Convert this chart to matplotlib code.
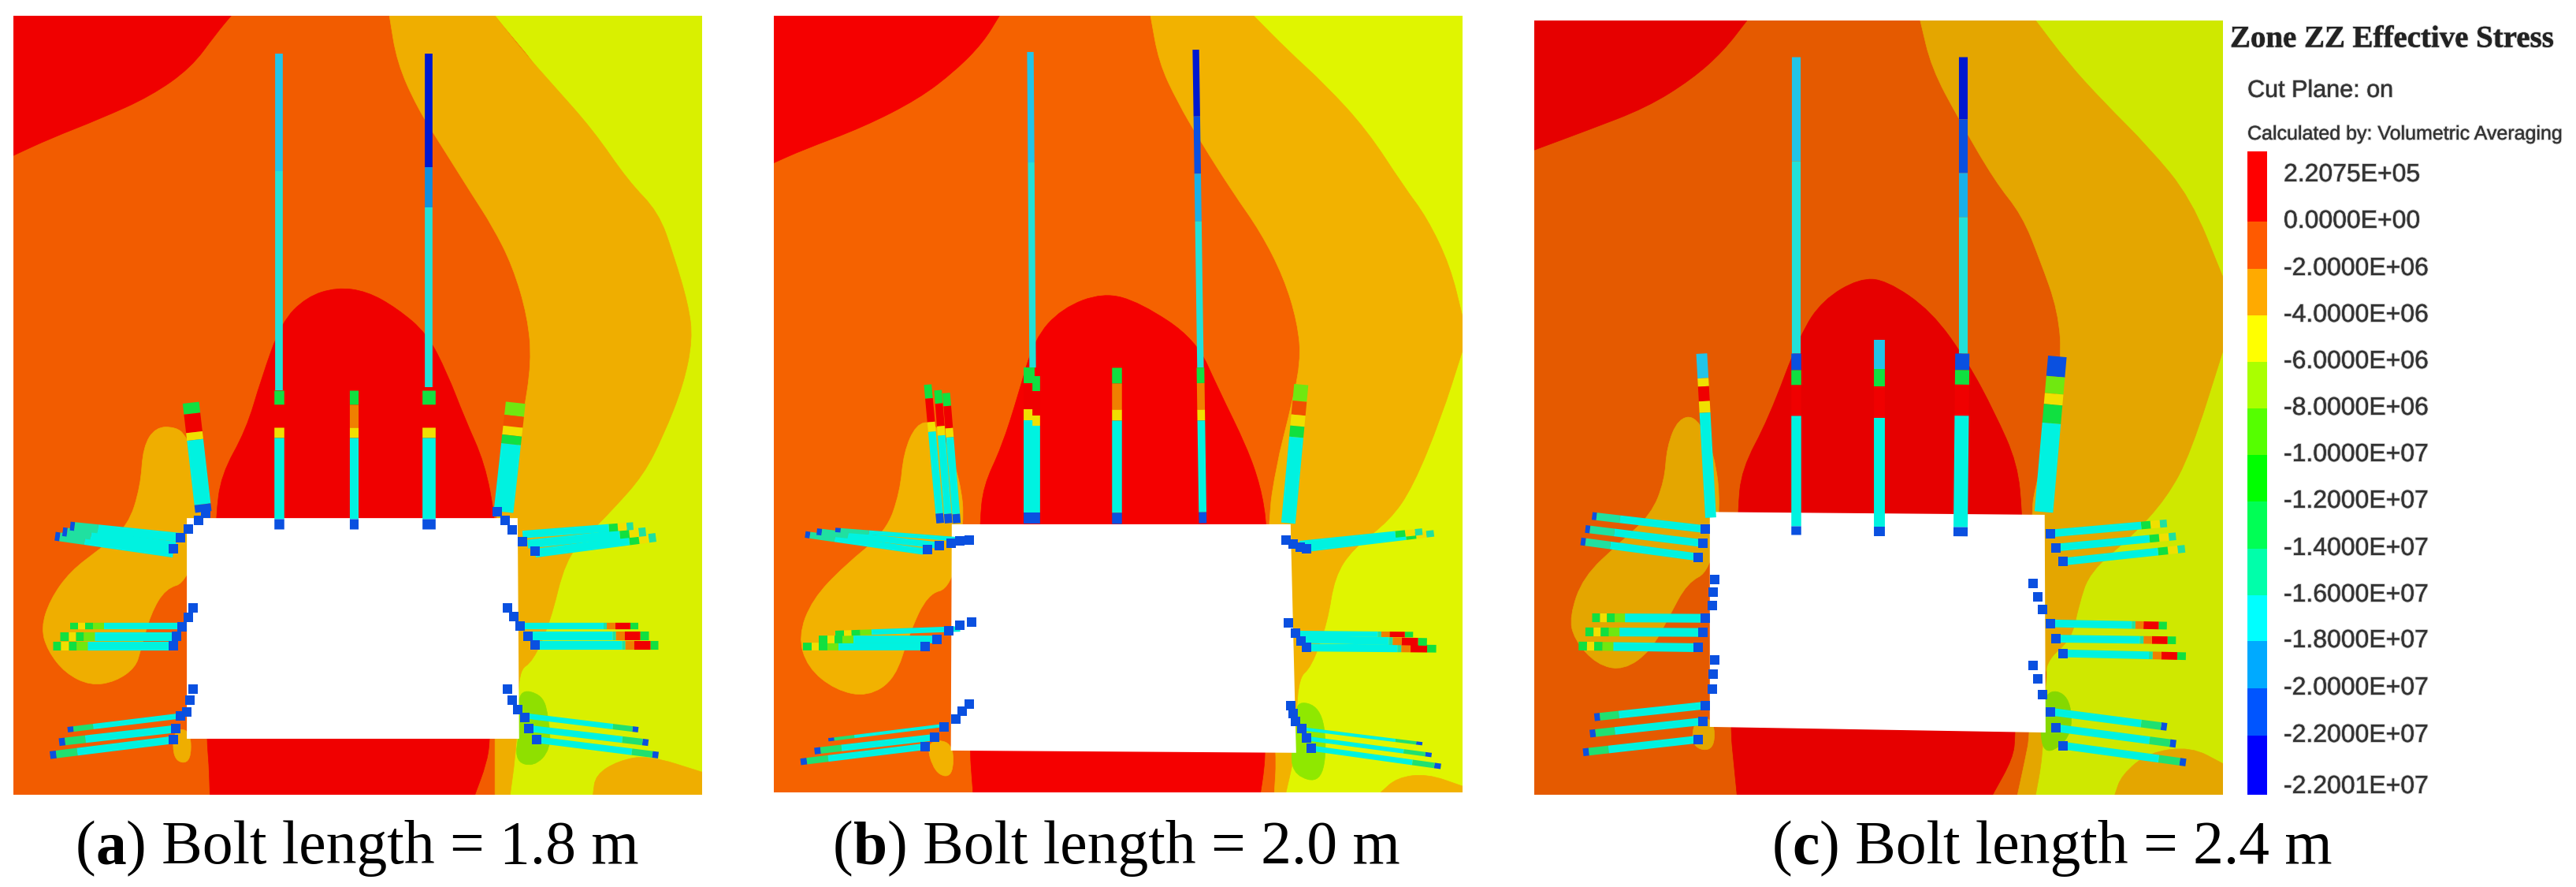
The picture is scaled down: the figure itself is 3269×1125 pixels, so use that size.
import numpy as np
import matplotlib
matplotlib.use("Agg")
import matplotlib.pyplot as plt
import matplotlib.patheffects as pe
from matplotlib.path import Path
from matplotlib.patches import PathPatch

W, H = 3269, 1125

# --- colours ---
BLUE = '#0a50e0'
DARK = '#0018d0'
SKY = '#22c4e8'
TEAL = '#22e0d8'
CYAN = '#00f2e0'
MINT = '#20e0a0'
GREEN = '#10e040'
LIMEG = '#70e810'
YEL = '#f0e000'
ORG = '#f08000'
RED = '#f00000'

# legend
legend_labels = ['2.2075E+05', '0.0000E+00', '-2.0000E+06', '-4.0000E+06', '-6.0000E+06',
                 '-8.0000E+06', '-1.0000E+07', '-1.2000E+07', '-1.4000E+07', '-1.6000E+07',
                 '-1.8000E+07', '-2.0000E+07', '-2.2000E+07', '-2.2001E+07']
legend_label_y = [222, 281, 341, 400, 459, 518, 577, 636, 696, 755, 813, 873, 933, 998]
legend_colors = ['#ff0000', '#ff5a00', '#ffaa00', '#ffff00', '#aaff00', '#55ff00', '#00ff00',
                 '#00ff55', '#00ffaa', '#00ffff', '#00aaff', '#0055ff', '#0000ff']
legend_edges = [192, 281, 341, 400, 459, 518, 577, 636, 696, 755, 813, 873, 933, 1008]

# colour patterns along a bolt, tip to root: (end fraction, colour)
patterns = {
    'thin_sky': [(0.35, SKY), (1, TEAL)],
    'thin_dark': [(0.34, DARK), (0.46, '#1090e0'), (1, TEAL)],
    'thin_dark_c': [(0.21, DARK), (0.39, BLUE), (0.54, '#18b0e8'), (1, TEAL)],
    'short': [(0.1, GREEN), (0.27, RED), (0.34, YEL), (0.93, CYAN), (1, BLUE)],
    'short_o': [(0.1, GREEN), (0.27, ORG), (0.34, YEL), (0.93, CYAN), (1, BLUE)],
    'short_g': [(0.12, LIMEG), (0.22, '#f05000'), (0.3, YEL), (0.38, GREEN), (1, CYAN)],
    'short_c': [(0.09, BLUE), (0.17, GREEN), (0.34, RED), (0.95, CYAN), (1, BLUE)],
    'short_s': [(0.15, SKY), (0.24, GREEN), (0.4, RED), (0.95, CYAN), (1, BLUE)],
    'diag_s': [(0.15, SKY), (0.2, YEL), (0.29, RED), (0.36, YEL), (1, CYAN)],
    'diag_b': [(0.13, BLUE), (0.24, LIMEG), (0.31, YEL), (0.43, GREEN), (1, CYAN)],
    'side_cg': [(0.04, BLUE), (0.25, MINT), (1, CYAN)],
    'side_yg': [(0.07, GREEN), (0.13, YEL), (0.2, GREEN), (0.29, LIMEG), (1, CYAN)],
    'side_rg': [(0.07, GREEN), (0.2, RED), (0.27, ORG), (0.3, MINT), (1, CYAN)],
    'side_tip': [(0.06, MINT), (0.14, YEL), (0.22, GREEN), (1, CYAN)],
    'side_bg': [(0.05, BLUE), (0.22, '#20e070'), (1, CYAN)],
}

a_box = (17, 20, 891, 1008)
a_limits = (27, 1397, 1405, 28)
a_colors = ('#f00000', '#f25c00', '#efae00', '#d9f000', '#8fe000')
a_red_top = [(27, 28), (460, 28), (430, 60), (380, 120), (300, 170), (200, 210), (100, 245), (27, 275)]
a_lime = [(985, 28), (1397, 28), (1397, 1405), (1000, 1405), (1035, 1200), (1035, 1000), (1150, 850), (1300, 500), (1100, 150)]
a_amber = [(775, 28), (790, 110), (830, 190), (880, 260), (940, 345), (980, 400), (1020, 470), (1050, 560),
           (1058, 640), (1040, 740), (1030, 800), (1000, 860), (985, 915), (985, 1200), (985, 1350), (985, 1405),
           (1015, 1405), (1025, 1340), (1030, 1280), (1032, 1185), (1060, 1170), (1095, 1100), (1125, 990),
           (1170, 945), (1220, 900), (1280, 840), (1320, 770), (1360, 680), (1378, 600), (1370, 540), (1340, 450),
           (1310, 375), (1250, 320), (1180, 230), (1100, 150), (1040, 90), (985, 28)]
a_amber_low = [(1180, 1405), (1185, 1370), (1230, 1345), (1290, 1335), (1397, 1365), (1397, 1405)]
a_lobe = [(285, 790), (310, 755), (350, 755), (370, 770), (400, 830), (420, 900), (372, 1030), (330, 1040),
          (300, 1085), (280, 1150), (270, 1180), (230, 1205), (180, 1212), (130, 1190), (95, 1150), (82, 1110),
          (100, 1060), (140, 1010), (200, 970), (255, 930), (280, 860)]
a_lobe_low = [(345, 1290), (380, 1290), (380, 1350), (345, 1345)]
a_red_mid = [(430, 915), (440, 840), (490, 760), (520, 670), (560, 570), (610, 525), (670, 508), (730, 515),
             (790, 545), (850, 590), (890, 660), (925, 740), (965, 820), (985, 915), (985, 960), (430, 960)]
a_red_low = [(412, 1250), (975, 1250), (975, 1310), (968, 1350), (945, 1405), (418, 1405), (416, 1350), (412, 1310)]
a_patch = [(1030, 1218), (1080, 1228), (1092, 1270), (1096, 1325), (1062, 1356), (1024, 1345), (1034, 1290)]
a_hole = [(372, 916), (1030, 916), (1033, 1306), (372, 1306)]
a_bolts = [
    (555, 95, 555, 690, 7, 'thin_sky'), (853, 95, 853, 685, 7, 'thin_dark'),
    (555, 690, 555, 935, 9, 'short'), (853, 690, 853, 935, 12, 'short'), (704, 690, 704, 935, 8, 'short_o'),
    (380, 712, 405, 905, 15, 'short'), (1026, 712, 1002, 905, 18, 'short_g'),
    (110, 948, 345, 978, 8, 'side_cg'), (125, 940, 350, 965, 8, 'side_cg'), (140, 930, 360, 950, 8, 'side_cg'),
    (105, 1142, 345, 1142, 8, 'side_yg'), (120, 1125, 355, 1125, 8, 'side_yg'), (140, 1107, 370, 1107, 6, 'side_yg'),
    (100, 1335, 345, 1308, 7, 'side_bg'), (118, 1312, 355, 1288, 7, 'side_bg'), (135, 1290, 365, 1265, 5, 'side_bg'),
    (1305, 950, 1065, 978, 8, 'side_tip'), (1285, 940, 1050, 962, 8, 'side_tip'), (1260, 930, 1040, 945, 7, 'side_tip'),
    (1310, 1140, 1065, 1140, 8, 'side_rg'), (1290, 1123, 1050, 1123, 8, 'side_rg'), (1270, 1107, 1040, 1107, 6, 'side_rg'),
    (1310, 1335, 1070, 1308, 6, 'side_bg'), (1290, 1313, 1055, 1288, 6, 'side_bg'), (1270, 1290, 1040, 1265, 5, 'side_bg'),
]
a_anchor_x = [345, 360, 375, 395, 410, 385, 375, 362, 352, 345, 385, 378, 372, 360, 350, 345,
              990, 1005, 1020, 1040, 1065, 1010, 1022, 1035, 1050, 1065, 1010, 1020, 1030, 1045, 1052, 1068]
a_anchor_y = [970, 950, 935, 920, 908, 1075, 1092, 1108, 1125, 1142, 1218, 1238, 1258, 1265, 1288, 1308,
              905, 920, 937, 958, 975, 1075, 1090, 1107, 1125, 1140, 1218, 1238, 1255, 1268, 1288, 1308]

# ---------- panel b ----------
b_box = (982, 20, 1856, 1005)
b_limits = (37, 1527, 1401, 28)
b_colors = ('#f50000', '#f56200', '#f2b200', '#e0f500', '#8fe800')
b_red_top = [(37, 28), (525, 28), (490, 75), (430, 125), (350, 175), (230, 225), (100, 265), (37, 288)]
b_lime = [(1075, 28), (1527, 28), (1527, 1401), (1145, 1401), (1165, 1250), (1165, 1050), (1300, 800), (1400, 600), (1200, 160)]
b_amber = [(852, 28), (870, 110), (910, 180), (960, 250), (1030, 340), (1090, 410), (1140, 490), (1170, 570),
           (1178, 640), (1150, 740), (1125, 820), (1105, 925), (1110, 1200), (1125, 1335), (1120, 1401), (1145, 1401),
           (1165, 1330), (1170, 1200), (1200, 1180), (1235, 1100), (1250, 1020), (1290, 970), (1370, 920), (1420, 860),
           (1480, 740), (1527, 620), (1527, 560), (1500, 470), (1450, 385), (1400, 330), (1320, 230),
           (1230, 150), (1150, 90), (1075, 28)]
b_amber_low = [(1350, 1401), (1385, 1375), (1450, 1368), (1527, 1390), (1527, 1401)]
b_lobe = [(318, 800), (345, 750), (380, 745), (410, 780), (440, 850), (450, 925), (420, 1040), (370, 1050),
          (330, 1120), (300, 1200), (240, 1232), (170, 1220), (110, 1180), (90, 1125), (120, 1060), (190, 1000),
          (280, 940), (310, 870)]
b_lobe_low = [(365, 1310), (425, 1310), (425, 1375), (385, 1368)]
b_red_mid = [(483, 925), (490, 860), (530, 790), (565, 700), (600, 600), (660, 545), (750, 517), (830, 535),
             (950, 600), (1000, 690), (1060, 790), (1090, 860), (1103, 925), (1103, 970), (483, 970)]
b_red_low = [(462, 1270), (1100, 1270), (1100, 1335), (1096, 1370), (1090, 1401), (468, 1401), (465, 1370), (462, 1335)]
b_patch = [(1165, 1238), (1220, 1250), (1234, 1320), (1220, 1384), (1165, 1372), (1154, 1335), (1170, 1290)]
b_hole = [(422, 927), (1155, 927), (1167, 1331), (420, 1327)]
b_bolts = [
    (592, 92, 597, 650, 6, 'thin_sky'), (950, 88, 960, 650, 6, 'thin_dark_c'),
    (590, 650, 590, 925, 10, 'short'), (604, 665, 604, 925, 7, 'short'), (778, 650, 778, 925, 9, 'short_o'),
    (960, 650, 965, 925, 7, 'short_o'), (1178, 680, 1150, 925, 13, 'short_g'),
    (370, 680, 397, 925, 7, 'short'), (392, 690, 415, 925, 7, 'short'), (410, 695, 433, 925, 7, 'short'),
    (105, 945, 360, 975, 6, 'side_cg'), (130, 940, 400, 965, 6, 'side_cg'), (170, 937, 460, 955, 4, 'side_cg'),
    (100, 1143, 365, 1143, 7, 'side_yg'), (135, 1130, 390, 1130, 7, 'side_yg'), (170, 1120, 440, 1112, 5, 'side_yg'),
    (95, 1347, 365, 1320, 6, 'side_bg'), (125, 1328, 390, 1303, 6, 'side_bg'), (155, 1308, 410, 1282, 3, 'side_bg'),
    (1465, 943, 1190, 970, 6, 'side_tip'), (1440, 940, 1175, 962, 6, 'side_tip'),
    (1470, 1147, 1190, 1145, 7, 'side_rg'), (1450, 1135, 1175, 1130, 7, 'side_rg'), (1420, 1122, 1165, 1120, 5, 'side_rg'),
    (1480, 1355, 1200, 1323, 5, 'side_bg'), (1460, 1335, 1185, 1305, 4, 'side_bg'), (1440, 1315, 1175, 1288, 3, 'side_bg'),
]
b_anchor_x = [365, 390, 415, 440, 465, 365, 385, 405, 430, 445, 460, 370, 395, 420, 440, 460,
              1145, 1160, 1175, 1190, 1150, 1165, 1178, 1190, 1155, 1160, 1165, 1180, 1190, 1200]
b_anchor_y = [1143, 1130, 1115, 1105, 1100, 1320, 1303, 1285, 1272, 1258, 1245, 972, 965, 960, 957, 955,
              955, 962, 967, 970, 1102, 1120, 1133, 1145, 1248, 1262, 1275, 1288, 1305, 1323]

# ---------- panel c ----------
c_box = (1947, 26, 2821, 1008)
c_limits = (82, 1604, 1405, 36)
c_colors = ('#e60000', '#e55a00', '#e4a600', '#cfe800', '#85d800')
c_red_top = [(82, 36), (552, 36), (500, 90), (430, 140), (330, 190), (200, 230), (82, 265)]
c_lime = [(1190, 36), (1604, 36), (1604, 1405), (1175, 1405), (1215, 1250), (1215, 1100), (1300, 950), (1450, 700), (1400, 300)]
c_amber = [(935, 36), (960, 120), (1020, 210), (1100, 320), (1160, 380), (1200, 460), (1240, 550), (1248, 640),
           (1220, 760), (1190, 860), (1180, 905), (1180, 1290), (1165, 1350), (1150, 1405), (1190, 1405),
           (1205, 1340), (1212, 1230), (1210, 1170), (1270, 1130), (1285, 1070), (1310, 1010), (1400, 950), (1480, 880),
           (1533, 800), (1604, 620), (1604, 490), (1533, 350), (1440, 260), (1340, 180), (1260, 110), (1190, 36)]
c_amber_low = [(1365, 1405), (1380, 1370), (1440, 1330), (1533, 1320), (1604, 1350), (1604, 1405)]
c_lobe = [(375, 790), (400, 740), (440, 735), (480, 800), (495, 900), (470, 1010), (420, 1030), (380, 1090),
          (340, 1150), (280, 1185), (220, 1175), (170, 1130), (160, 1090), (190, 1020), (270, 960), (340, 910),
          (370, 850)]
c_lobe_low = [(435, 1270), (480, 1270), (480, 1328), (430, 1322)]
c_red_mid = [(532, 905), (540, 830), (600, 740), (670, 590), (720, 530), (800, 492), (860, 495), (960, 550),
             (1040, 640), (1100, 730), (1150, 820), (1160, 908), (1160, 960), (532, 960)]
c_red_low = [(517, 1230), (1145, 1230), (1145, 1300), (1140, 1340), (1095, 1405), (530, 1405), (522, 1340), (517, 1300)]
c_patch = [(1210, 1218), (1265, 1228), (1272, 1300), (1215, 1336), (1198, 1300)]
c_hole = [(470, 905), (1210, 910), (1212, 1295), (470, 1285)]
c_bolts = [
    (660, 100, 660, 625, 8, 'thin_sky'), (1030, 100, 1030, 625, 8, 'thin_dark_c'),
    (660, 625, 660, 945, 9, 'short_c'), (845, 600, 845, 948, 10, 'short_s'), (1028, 625, 1024, 948, 13, 'short_c'),
    (452, 625, 472, 915, 10, 'diag_s'), (1238, 630, 1208, 905, 17, 'diag_b'),
    (210, 912, 455, 935, 7, 'side_cg'), (195, 935, 450, 960, 7, 'side_cg'), (185, 957, 445, 985, 7, 'side_cg'),
    (210, 1092, 460, 1093, 8, 'side_yg'), (195, 1117, 455, 1118, 8, 'side_yg'), (180, 1142, 445, 1145, 8, 'side_yg'),
    (215, 1268, 460, 1247, 7, 'side_bg'), (205, 1297, 455, 1275, 7, 'side_bg'), (190, 1330, 445, 1307, 7, 'side_bg'),
    (1480, 925, 1222, 943, 7, 'side_tip'), (1500, 948, 1235, 968, 7, 'side_tip'), (1520, 970, 1250, 993, 7, 'side_tip'),
    (1480, 1106, 1222, 1102, 7, 'side_rg'), (1500, 1132, 1235, 1129, 7, 'side_rg'), (1522, 1160, 1250, 1155, 7, 'side_rg'),
    (1480, 1285, 1222, 1258, 7, 'side_bg'), (1500, 1315, 1235, 1287, 7, 'side_bg'), (1522, 1348, 1250, 1318, 7, 'side_bg'),
]
c_anchor_x = [480, 477, 475, 480, 477, 475, 1185, 1195, 1205, 1185, 1195, 1205,
              460, 455, 445, 460, 455, 445, 460, 455, 445, 1222, 1235, 1250, 1222, 1235, 1250, 1222, 1235, 1250]
c_anchor_y = [1025, 1047, 1070, 1167, 1192, 1218, 1032, 1055, 1078, 1176, 1200, 1228,
              935, 960, 985, 1093, 1118, 1145, 1247, 1275, 1307, 943, 968, 993, 1102, 1129, 1155, 1258, 1287, 1318]


def smooth_patch(points, limits, color):
    # curve through the outline, corners on the panel edge stay sharp
    x0, x1, y1, y0 = limits
    pts = np.array(points, dtype=float)
    n = len(pts)
    mids = (pts + np.roll(pts, -1, axis=0)) / 2
    verts = [mids[-1]]
    codes = [Path.MOVETO]
    for i in range(n):
        x, y = pts[i]
        hard = x in (x0, x1) or y in (y0, y1)
        if hard:
            verts += [pts[i], mids[i]]
            codes += [Path.LINETO, Path.LINETO]
        else:
            verts += [pts[i], mids[i]]
            codes += [Path.CURVE3, Path.CURVE3]
    verts.append(mids[-1])
    codes.append(Path.CLOSEPOLY)
    return PathPatch(Path(verts, codes), facecolor=color, edgecolor=color, linewidth=0.5)


def draw_bolt(ax, bolt):
    x0, y0, x1, y1, width, name = bolt
    start = 0
    for stop, color in patterns[name]:
        ax.plot([x0 + (x1 - x0) * start, x0 + (x1 - x0) * stop],
                [y0 + (y1 - y0) * start, y0 + (y1 - y0) * stop],
                color=color, lw=width, solid_capstyle='butt')
        start = stop


def draw_panel(box, limits, colors, regions, hole, bolts, anchor_x, anchor_y):
    left, top, right, bottom = box
    ax = fig.add_axes([left / W, 1 - bottom / H, (right - left) / W, (bottom - top) / H])
    ax.set_xlim(limits[0], limits[1])
    ax.set_ylim(limits[2], limits[3])
    ax.axis('off')
    red, orange, amber, lime, green = colors
    ax.add_patch(plt.Rectangle((limits[0], limits[3]), limits[1] - limits[0], limits[2] - limits[3], color=orange))
    shades = [red, lime, amber, amber, amber, amber, red, red, green]
    for region, shade in zip(regions, shades):
        ax.add_patch(smooth_patch(region, limits, shade))
    ax.fill([p[0] for p in hole], [p[1] for p in hole], color='white', lw=0)
    for bolt in bolts:
        draw_bolt(ax, bolt)
    ax.plot(anchor_x, anchor_y, ls='none', marker='s', ms=8.5, color=BLUE, mew=0)


def caption(x, letter, rest):
    # bold letter inside normal text, pieces are placed one after another
    y = 1095
    size = 55.8
    for piece, weight in [('(', 'normal'), (letter, 'bold'), (rest, 'normal')]:
        t = page.text(x, y, piece, fontsize=size, family='Liberation Serif', fontweight=weight,
                      va='baseline', ha='left', color='black')
        x = page.transData.inverted().transform(t.get_window_extent(renderer).get_points())[1, 0]


fig = plt.figure(figsize=(W / 100, H / 100), dpi=100, facecolor='white')
renderer = fig.canvas.get_renderer()

draw_panel(a_box, a_limits, a_colors,
           [a_red_top, a_lime, a_amber, a_amber_low, a_lobe, a_lobe_low, a_red_mid, a_red_low, a_patch],
           a_hole, a_bolts, a_anchor_x, a_anchor_y)
draw_panel(b_box, b_limits, b_colors,
           [b_red_top, b_lime, b_amber, b_amber_low, b_lobe, b_lobe_low, b_red_mid, b_red_low, b_patch],
           b_hole, b_bolts, b_anchor_x, b_anchor_y)
draw_panel(c_box, c_limits, c_colors,
           [c_red_top, c_lime, c_amber, c_amber_low, c_lobe, c_lobe_low, c_red_mid, c_red_low, c_patch],
           c_hole, c_bolts, c_anchor_x, c_anchor_y)

# page axes in pixels for captions
page = fig.add_axes([0, 0, 1, 1])
page.set_xlim(0, W)
page.set_ylim(H, 0)
page.axis('off')
page.patch.set_alpha(0)
caption(96, 'a', ') Bolt length = 1.8 m')
caption(1057, 'b', ') Bolt length = 2.0 m')
caption(2249, 'c', ') Bolt length = 2.4 m')

# legend axes stops at the panel bottom, the last label gets cut there
leg = fig.add_axes([2825 / W, 1 - 1008 / H, (W - 2825) / W, 1008 / H])
leg.set_xlim(2825, W)
leg.set_ylim(1008, 0)
leg.axis('off')
leg.patch.set_alpha(0)
leg.bar([2852] * 13, np.diff(legend_edges), width=25, bottom=legend_edges[:-1], color=legend_colors,
        align='edge', linewidth=0)
# soft edge, the legend in the reference is a blurred screenshot
soft = [pe.withStroke(linewidth=1.5, foreground='#00000030')]
leg.text(2830, 50, 'Zone ZZ Effective Stress', fontsize=28, family='Liberation Serif', fontweight='bold',
         va='center', color='#222222', path_effects=soft)
leg.text(2852, 115, 'Cut Plane: on', fontsize=22, family='Liberation Sans', va='center', color='#333333',
         path_effects=soft)
leg.text(2852, 170, 'Calculated by: Volumetric Averaging', fontsize=18, family='Liberation Sans',
         va='center', color='#333333', path_effects=soft)
for label, y in zip(legend_labels, legend_label_y):
    leg.text(2898, y, label, fontsize=23, family='Liberation Sans', va='center', color='#333333', clip_on=True,
             path_effects=soft)

fig.savefig('out.png', dpi=100)
